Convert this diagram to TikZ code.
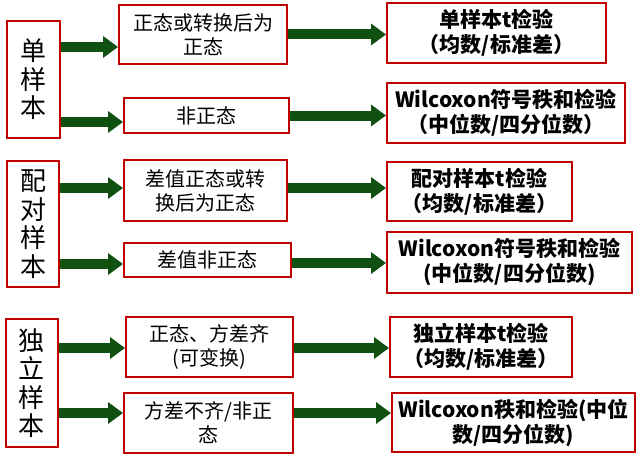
\documentclass[tikz,border=0pt]{standalone}
\usepackage{fontspec}
\setmainfont{Noto Sans CJK SC}
\usetikzlibrary{arrows.meta,calc}
\definecolor{boxred}{RGB}{192,0,0}
\definecolor{arrowgreen}{RGB}{16,80,16}
\begin{document}
\begin{tikzpicture}[x = 1pt, y = -1pt,
    box/.style = {draw = boxred, line width = 2pt, fill = white,
                  inner sep = 0pt, align = center},
    group/.style = {box, font = \fontsize{26}{28.5}\selectfont},
    cond/.style = {box, font = \fontsize{20}{24}\selectfont},
    test/.style = {box, font = \fontsize{21}{25}\selectfont\bfseries},
    fat/.style = {arrowgreen, line width = 10pt,
                  -{Triangle[width = 21pt, length = 15pt]}}]
  \useasboundingbox (0,0) rectangle (640,460);
  % sample types
  \node [group, minimum width = 53, minimum height = 117] (l1)
        at (33.5,79.5) {单\\样\\本};
  \node [group, minimum width = 52, minimum height = 126] (l2)
        at (33,224) {配\\对\\样\\本};
  \node [group, minimum width = 52, minimum height = 128] (l3)
        at (32,383) {独\\立\\样\\本};
  % conditions
  \node [cond, minimum width = 168, minimum height = 59] (m1)
        at (203,34.5) {正态或转换后为\\正态};
  \node [cond, minimum width = 165, minimum height = 35] (m2)
        at (206.5,115.5) {非正态};
  \node [cond, minimum width = 163, minimum height = 61] (m3)
        at (205.5,190.5) {差值正态或转\\换后为正态};
  \node [cond, minimum width = 167, minimum height = 34] (m4)
        at (207.5,260) {差值非正态};
  \node [cond, minimum width = 167, minimum height = 60] (m5)
        at (209.5,347) {正态、方差齐\\(可变换)};
  \node [cond, minimum width = 169, minimum height = 60] (m6)
        at (208.5,423) {方差不齐/非正\\态};
  % tests
  \node [test, minimum width = 219, minimum height = 60] (r1)
        at (496.5,33) {单样本t检验\\（均数/标准差）};
  \node [test, minimum width = 238, minimum height = 60] (r2)
        at (506,113) {Wilcoxon符号秩和检验\\（中位数/四分位数）};
  \node [test, minimum width = 185, minimum height = 59] (r3)
        at (479.5,191.5) {配对样本t检验\\（均数/标准差）};
  \node [test, minimum width = 245, minimum height = 61] (r4)
        at (509.5,262.5) {Wilcoxon符号秩和检验\\(中位数/四分位数)};
  \node [test, minimum width = 182, minimum height = 60] (r5)
        at (481,347) {独立样本t检验\\（均数/标准差）};
  \node [test, minimum width = 243, minimum height = 59] (r6)
        at (513.5,422.5) {Wilcoxon秩和检验(中位\\数/四分位数)};
  % arrows
  \foreach \l/\m/\r/\a/\b in {l1/m1/r1/12.5/0, l1/m2/r2/6.5/0,
                              l2/m3/r3/-2.5/-2.5, l2/m4/r4/4/3,
                              l3/m5/r5/1/1, l3/m6/r6/-10/-10}
    {
      \draw [fat] ($(\m.west -| \l.east) + (0,\a)$) -- ($(\m.west) + (0,\a)$);
      \draw [fat] ($(\m.east) + (0,\b)$) -- ($(\m.east -| \r.west) + (0,\b)$);
    }
\end{tikzpicture}
\end{document}
